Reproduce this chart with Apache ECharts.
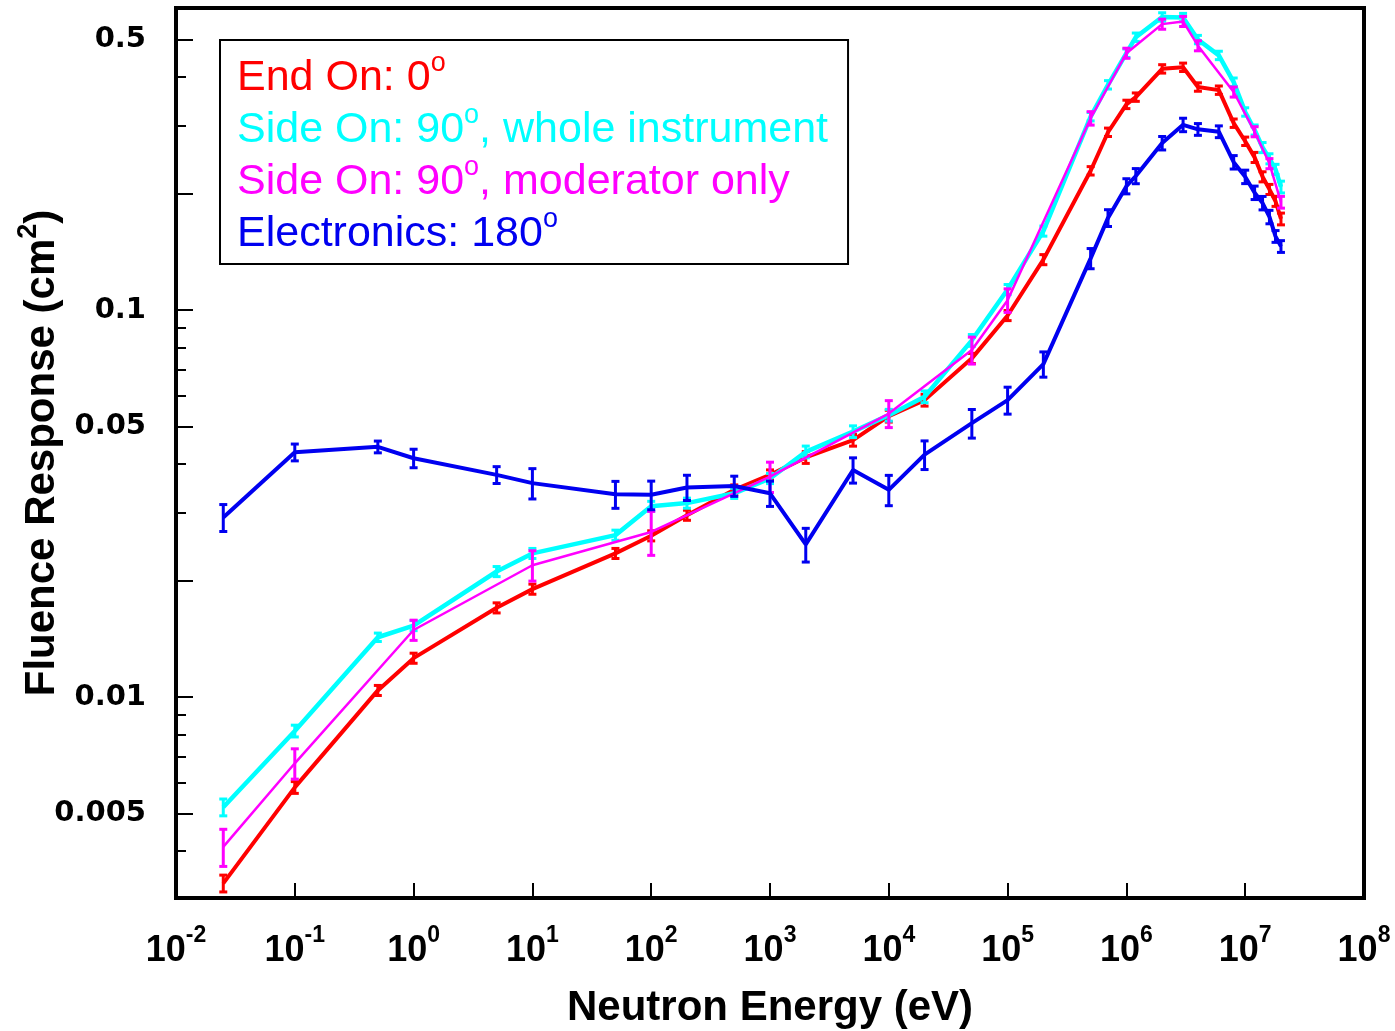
<!DOCTYPE html>
<html>
<head>
<meta charset="utf-8">
<script src="https://cdn.jsdelivr.net/npm/echarts@6/dist/echarts.min.js"></script>
<style>
html,body{margin:0;padding:0;background:#fff;}
#chart{width:1395px;height:1031px;}
</style>
</head>
<body>
<div id="chart"></div>
<script>
// ---- data ----
const energies = [0.025, 0.1, 0.5, 1, 5, 10, 50, 100, 200, 500, 1e3, 2e3, 5e3, 1e4, 2e4, 5e4, 1e5, 2e5, 5e5, 7e5, 1e6, 1.2e6, 2e6, 3e6, 4e6, 6e6, 8e6, 1e7, 1.2e7, 1.4e7, 1.6e7, 1.8e7, 2e7];
const endOn = [0.0033, 0.00584, 0.0104, 0.0126, 0.0170, 0.0190, 0.0235, 0.0261, 0.0295, 0.0343, 0.0375, 0.0416, 0.0461, 0.0532, 0.0585, 0.0750, 0.0968, 0.135, 0.229, 0.288, 0.340, 0.355, 0.420, 0.424, 0.377, 0.370, 0.304, 0.273, 0.248, 0.221, 0.205, 0.191, 0.172];
const endOnErr = [0.05, 0.035, 0.03, 0.03, 0.03, 0.03, 0.03, 0.03, 0.03, 0.03, 0.03, 0.035, 0.035, 0.035, 0.035, 0.03, 0.03, 0.03, 0.025, 0.025, 0.025, 0.025, 0.025, 0.025, 0.025, 0.025, 0.025, 0.025, 0.03, 0.03, 0.03, 0.03, 0.035];
const sideWhole = [0.00519, 0.00817, 0.01427, 0.0153, 0.0211, 0.0235, 0.0262, 0.0311, 0.0317, 0.0336, 0.0367, 0.0430, 0.0485, 0.0535, 0.0597, 0.0835, 0.113, 0.160, 0.316, 0.382, 0.461, 0.507, 0.572, 0.570, 0.500, 0.455, 0.388, 0.325, 0.292, 0.263, 0.246, 0.231, 0.208];
const sideWholeErr = [0.05, 0.035, 0.025, 0.03, 0.03, 0.03, 0.03, 0.03, 0.03, 0.03, 0.03, 0.035, 0.035, 0.035, 0.035, 0.035, 0.03, 0.03, 0.025, 0.025, 0.025, 0.025, 0.025, 0.025, 0.025, 0.025, 0.025, 0.025, 0.03, 0.03, 0.03, 0.03, 0.035];
const modEnergies = [0.025, 0.1, 1, 10, 100, 1e3, 1e4, 5e4, 1e5, 5e5, 1e6, 2e6, 3e6, 4e6, 8e6, 1.2e7, 1.6e7, 2e7];
const sideMod = [0.0041, 0.00674, 0.0149, 0.0219, 0.0267, 0.0371, 0.0540, 0.0788, 0.106, 0.313, 0.461, 0.548, 0.557, 0.482, 0.366, 0.289, 0.239, 0.190];
const sideModErr = [0.11, 0.09, 0.06, 0.09, 0.13, 0.09, 0.08, 0.08, 0.07, 0.04, 0.03, 0.03, 0.03, 0.03, 0.03, 0.03, 0.03, 0.035];
const electronics = [0.0291, 0.0429, 0.0443, 0.0414, 0.0375, 0.0357, 0.0334, 0.0333, 0.0348, 0.0351, 0.0336, 0.0248, 0.0386, 0.0343, 0.0423, 0.0510, 0.0585, 0.0725, 0.136, 0.173, 0.209, 0.222, 0.270, 0.301, 0.293, 0.289, 0.241, 0.221, 0.201, 0.189, 0.174, 0.155, 0.146];
const electronicsErr = [0.08, 0.05, 0.035, 0.055, 0.05, 0.09, 0.08, 0.085, 0.075, 0.06, 0.075, 0.1, 0.075, 0.09, 0.085, 0.085, 0.08, 0.075, 0.06, 0.05, 0.045, 0.045, 0.04, 0.04, 0.035, 0.035, 0.04, 0.04, 0.04, 0.04, 0.04, 0.035, 0.035];

const seriesNames = ['End On: 0°', 'Side On: 90°, whole instrument', 'Side On: 90°, moderator only', 'Electronics: 180°'];
const seriesColors = ['#ff0000', '#00ffff', '#ff00ff', '#0000f0'];
const lineWidths = [4, 4.5, 2.5, 4];

const xTickValues = [1e-2, 1e-1, 1, 1e1, 1e2, 1e3, 1e4, 1e5, 1e6, 1e7, 1e8];
const yLabelValues = [0.005, 0.01, 0.05, 0.1, 0.5];
const yMajorTicks = [0.005, 0.01, 0.02, 0.05, 0.1, 0.2, 0.5];
const yMinorTicks = [0.004, 0.006, 0.007, 0.008, 0.009, 0.03, 0.04, 0.06, 0.07, 0.08, 0.09, 0.3, 0.4];

// ---- build ----
const sets = [
  {x: energies, y: endOn, e: endOnErr},
  {x: energies, y: sideWhole, e: sideWholeErr},
  {x: modEnergies, y: sideMod, e: sideModErr},
  {x: energies, y: electronics, e: electronicsErr}
];

const series = [];
sets.forEach((s, i) => {
  series.push({
    name: seriesNames[i],
    type: 'line',
    data: s.x.map((xv, k) => [xv, s.y[k]]),
    showSymbol: false,
    symbol: 'none',
    lineStyle: {color: seriesColors[i], width: lineWidths[i]},
    itemStyle: {color: seriesColors[i]},
    z: 2 + i,
    silent: true
  });
  const color = seriesColors[i];
  series.push({
    name: seriesNames[i] + ' err',
    type: 'custom',
    data: s.x.map((xv, k) => [xv, s.y[k] * (1 - s.e[k]), s.y[k] * (1 + s.e[k])]),
    encode: {x: 0, y: [1, 2]},
    z: 2 + i,
    silent: true,
    renderItem: function (params, api) {
      const x = api.value(0), lo = api.value(1), hi = api.value(2);
      const p1 = api.coord([x, lo]);
      const p2 = api.coord([x, hi]);
      const w = 4;
      const st = {stroke: color, lineWidth: 3};
      return {
        type: 'group',
        children: [
          {type: 'line', shape: {x1: p1[0], y1: p1[1], x2: p2[0], y2: p2[1]}, style: st},
          {type: 'line', shape: {x1: p1[0] - w, y1: p1[1], x2: p1[0] + w, y2: p1[1]}, style: st},
          {type: 'line', shape: {x1: p2[0] - w, y1: p2[1], x2: p2[0] + w, y2: p2[1]}, style: st}
        ]
      };
    }
  });
});

const legendRich = {};
seriesColors.forEach((c, i) => {
  legendRich['t' + i] = {color: c, fontSize: 43, fontFamily: 'Liberation Sans'};
  legendRich['s' + i] = {color: c, fontSize: 27, fontFamily: 'Liberation Sans', padding: [0, 0, 30, 0]};
});

const chart = echarts.init(document.getElementById('chart'), null, {renderer: 'canvas'});
chart.setOption({
  animation: false,
  backgroundColor: '#fff',
  grid: {left: 176, top: 8, width: 1188, height: 890, show: true, borderColor: '#000', borderWidth: 4, containLabel: false, outerBoundsMode: 'none'},
  legend: {
    data: seriesNames.map((n, i) => ({name: n, icon: 'rect', itemStyle: {opacity: 0}})),
    orient: 'vertical',
    left: 220, top: 40,
    itemWidth: 0, itemHeight: 0, itemGap: 2,
    borderColor: '#000', borderWidth: 2,
    padding: [10, 20, 8, 12],
    selectedMode: false,
    textStyle: {fontSize: 43, fontFamily: 'Liberation Sans', rich: legendRich},
    formatter: function (name) {
      const i = seriesNames.indexOf(name);
      const parts = name.split('°');
      return '{t' + i + '|' + parts[0] + '}{s' + i + '|o}' + (parts[1] ? '{t' + i + '|' + parts[1] + '}' : '');
    }
  },
  xAxis: {
    type: 'log', logBase: 10, min: 0.01, max: 1e8,
    name: 'Neutron Energy (eV)', nameLocation: 'middle', nameGap: 89, nameMoveOverlap: false,
    nameTextStyle: {fontSize: 42, fontWeight: 'bold', fontFamily: 'Liberation Sans', color: '#000'},
    axisLine: {show: true, lineStyle: {color: '#000', width: 4}},
    axisTick: {show: true, inside: true, length: 15, interval: 0, lineStyle: {color: '#000', width: 2}, customValues: xTickValues},
    splitLine: {show: false},
    minorTick: {show: false},
    axisLabel: {
      customValues: xTickValues,
      interval: 0,
      margin: 26,
      formatter: function (v) {
        const e = Math.round(Math.log10(v));
        return '{b|10}{e|' + e + '}';
      },
      rich: {
        b: {fontSize: 36, fontWeight: 'bold', fontFamily: 'Liberation Sans', color: '#000'},
        e: {fontSize: 23, fontWeight: 'bold', fontFamily: 'Liberation Sans', color: '#000', padding: [0, 0, 32, 0]}
      }
    }
  },
  yAxis: [{
    type: 'log', logBase: 10, min: 0.003024, max: 0.6032,
    name: 'Fluence Response (cm{s|2})', nameLocation: 'middle', nameGap: 106, nameRotate: 90, nameMoveOverlap: false,
    nameTextStyle: {fontSize: 42, fontWeight: 'bold', fontFamily: 'Liberation Sans', color: '#000',
      rich: {s: {fontSize: 27, fontWeight: 'bold', fontFamily: 'Liberation Sans', color: '#000', padding: [0, 0, 28, 0]}}},
    axisLine: {show: true, lineStyle: {color: '#000', width: 4}},
    axisTick: {show: true, inside: true, length: 17, interval: 0, lineStyle: {color: '#000', width: 2}, customValues: yMajorTicks},
    splitLine: {show: false},
    axisLabel: {
      customValues: yLabelValues, margin: 30, interval: 0,
      fontSize: 29, fontWeight: 'bold', fontFamily: 'DejaVu Sans', color: '#000',
      formatter: function (v) { return String(v); }
    }
  }, {
    type: 'log', logBase: 10, min: 0.003024, max: 0.6032, position: 'left', offset: 0,
    axisLine: {show: false},
    axisTick: {show: true, inside: true, length: 10, interval: 0, lineStyle: {color: '#000', width: 2}, customValues: yMinorTicks},
    axisLabel: {show: false, customValues: yMinorTicks, interval: 0},
    splitLine: {show: false}
  }],
  series: series
});
</script>
</body>
</html>
